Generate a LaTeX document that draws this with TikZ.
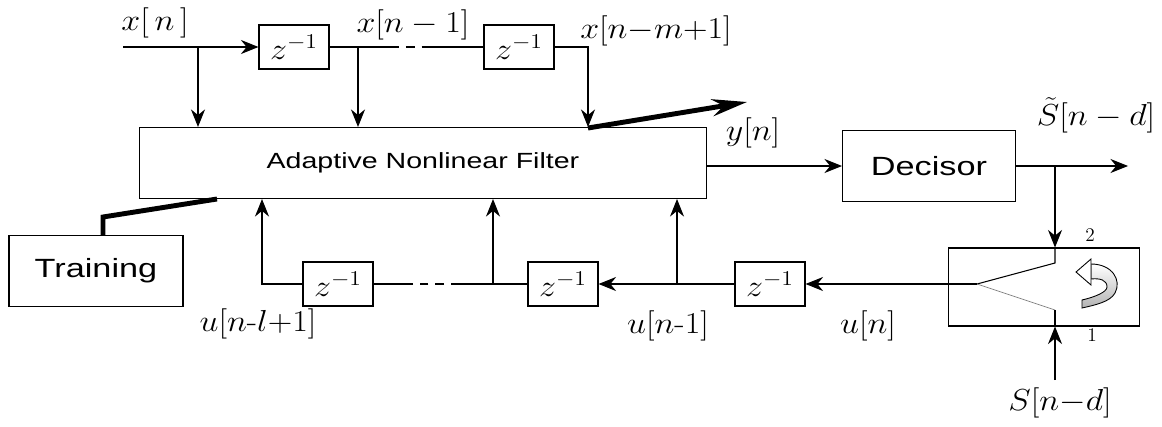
\documentclass[tikz,border=0pt]{standalone}
\usepackage{fontspec}
\setsansfont{Liberation Sans}[FakeStretch=1.3]
\usepackage{graphicx}
\usetikzlibrary{arrows.meta}
\newcommand{\lbl}[1]{\scalebox{1.12}[1]{$#1$}}
\begin{document}
\begin{tikzpicture}[x=0.02cm, y=-0.02cm, line width=0.6pt,
  blk/.style={draw, inner sep=0pt, minimum height=1.42cm},
  delay/.style={draw, inner sep=0pt, minimum width=1.4cm, minimum height=0.88cm, font=\fontsize{17.28}{20}\selectfont},
  sig/.style={inner sep=0pt, anchor=base, font=\fontsize{17.28}{20}\selectfont},
  arr/.style={-{Stealth[length=10pt,width=8pt]}},
  gap/.style={dash pattern=on 5pt off 4pt}]
\useasboundingbox (0,0) rectangle (1162,426);
\node[delay] (z1) at (294,47) {\lbl{z^{-1}}};
\node[delay] (z2) at (519,47) {\lbl{z^{-1}}};
\node[blk, minimum width=11.34cm, font=\sffamily\fontsize{12.5}{15}\selectfont] (filter) at (423,163) {Adaptive Nonlinear Filter};
\node[blk, minimum width=3.46cm, font=\sffamily\fontsize{15}{18}\selectfont] (dec) at (929,166) {Decisor};
\node[blk, minimum width=3.48cm, font=\sffamily\fontsize{15}{18}\selectfont] (train) at (96,271) {Training};
\node[draw, inner sep=0pt, minimum width=3.82cm, minimum height=1.56cm] (switch) at (1044,287) {};
\node[delay] (zl) at (338,284) {\lbl{z^{-1}}};
\node[delay] (zm) at (563,284) {\lbl{z^{-1}}};
\node[delay] (zr) at (770,284) {\lbl{z^{-1}}};
\node[sig] (lx0) at (155,31) {\lbl{x[\,n\,]}};
\node[sig] (lx1) at (413,32) {\lbl{x[n-1]}};
\node[sig] (lxm) at (656,38) {\lbl{x[n{-}m{+}1]}};
\node[sig] (ly) at (753,140) {\lbl{y[n]}};
\node[sig] (lsh) at (1096,125) {\lbl{\tilde{S}[n-d]}};
\node[sig] (lul) at (258,331) {\lbl{u[n\mbox{-}l{+}1]}};
\node[sig] (lu1) at (668,333) {\lbl{u[n\mbox{-}1]}};
\node[sig] (lu) at (868,333) {\lbl{u[n]}};
\node[sig] (ls) at (1060,410) {\lbl{S[n{-}d]}};
\node[font=\fontsize{11}{13}\selectfont] (p2) at (1090,235) {2};
\node[font=\fontsize{11}{13}\selectfont] (p1) at (1092,335) {1};
\coordinate (xin) at (123,47);
\coordinate (t0) at (198,47);
\coordinate (t1) at (358,47);
\coordinate (d1) at (390,47);
\coordinate (d2) at (430,47);
\coordinate (t2) at (588,47);
\coordinate (a1) at (103,217);
\coordinate (a2) at (217,199);
\coordinate (a3) at (588,128);
\coordinate (a4) at (747,102);
\coordinate (yout) at (1128,166);
\coordinate (tapd) at (1055,166);
\coordinate (pole2) at (1055,263);
\coordinate (pivot) at (977,284);
\coordinate (pole1) at (1055,310);
\coordinate (sin) at (1055,380);
\coordinate (t5) at (677,284);
\coordinate (t4) at (493,284);
\coordinate (d3) at (460,284);
\coordinate (d4) at (413,284);
\coordinate (t3) at (262,284);
\draw[arr] (xin) -- (z1);
\draw[arr] (t0) -- (t0 |- filter.north);
\draw (z1) -- (d1);
\draw[gap] (d1) -- (d2);
\draw (d2) -- (z2);
\draw[arr] (t1) -- (t1 |- filter.north);
\draw[arr] (z2.east) -- (t2) -- (t2 |- filter.north);
\draw[line width=2.8pt] (train.north -| a1) -- (a1) -- (a2);
\draw[line width=2.8pt, -{Stealth[length=0.7cm,width=0.34cm]}] (a3) -- (a4);
\draw[arr] (filter.east |- dec.west) -- (dec.west);
\draw[arr] (dec.east) -- (yout);
\draw[arr] (tapd) -- (switch.north -| tapd);
\draw (switch.north -| tapd) -- (pole2) -- (pivot);
\draw[gray, line width=0.4pt] (pivot) -- (pole1);
\draw (pole1) -- (switch.south -| pole1);
\draw[arr] (sin) -- (switch.south -| sin);
\draw[arr] (pivot) -- (zr.east);
\draw[arr] (zr.west) -- (zm.east);
\draw[arr] (t5) -- (t5 |- filter.south);
\draw (zm.west) -- (d3);
\draw[gap] (d3) -- (d4);
\draw (d4) -- (zl.east);
\draw[arr] (t4) -- (t4 |- filter.south);
\draw[arr] (zl.west) -- (t3) -- (t3 |- filter.south);
\shadedraw[top color=white, bottom color=gray!60, line width=0.5pt] (1091,264) .. controls (1112,264) and (1122,280) .. (1115,293) .. controls (1110,302) and (1095,305) .. (1082,308) -- (1082,300) .. controls (1095,297) and (1107,292) .. (1107,287) .. controls (1107,280) and (1100,278) .. (1091,279) -- cycle;
\filldraw[fill=white, line width=0.5pt] (1091,259) -- (1076,272) -- (1091,285) -- cycle;
\end{tikzpicture}
\end{document}
